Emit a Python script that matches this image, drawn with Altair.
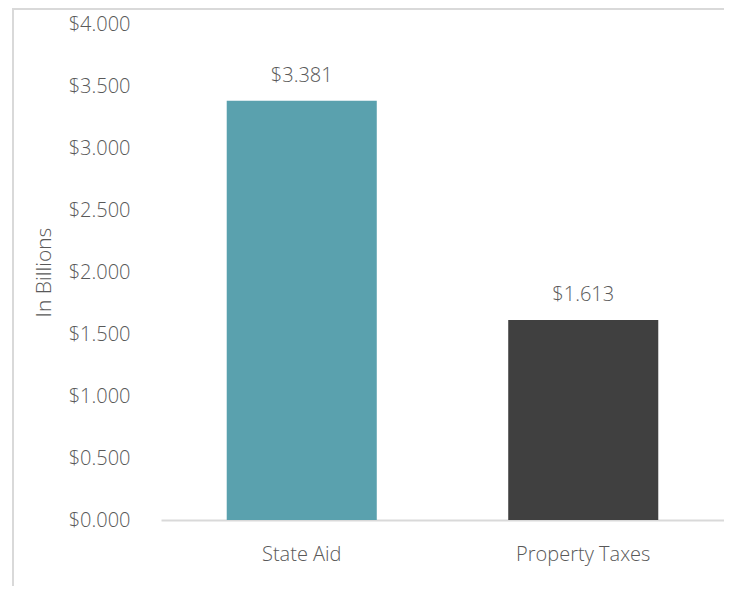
import altair as alt
import pandas as pd

categories = ["State Aid", "Property Taxes"]
values = [3.381, 1.613]
colors = ["#5AA1AE", "#404040"]

df = pd.DataFrame({"cat": categories, "val": values, "color": colors})

FONT = "Open Sans"
GRAY = "#595959"
W = 300

x = alt.X("cat:N", sort=categories, title=None,
          scale=alt.Scale(paddingInner=0.467, paddingOuter=0.2335),
          axis=alt.Axis(labelAngle=0, ticks=False, labelPadding=24, labelFontSize=20,
                        labelColor=GRAY, labelFont=FONT, labelFontWeight=W,
                        domainColor="#d9d9d9", domainWidth=2))
y = alt.Y("val:Q", title="In Billions",
          scale=alt.Scale(domain=[0, 4]),
          axis=alt.Axis(values=[0, 0.5, 1, 1.5, 2, 2.5, 3, 3.5, 4], format="$.3f",
                        grid=False, domain=False, ticks=False, labelPadding=31,
                        labelFontSize=20, labelColor=GRAY, labelFont=FONT,
                        labelFontWeight=W,
                        titleFontSize=21, titleColor=GRAY, titleFont=FONT,
                        titleFontWeight=W, titlePadding=14))

bars = alt.Chart(df).mark_bar().encode(
    x=x, y=y, color=alt.Color("color:N", scale=None)
)
labels = alt.Chart(df).mark_text(
    dy=-19, baseline="alphabetic", fontSize=20, font=FONT, color=GRAY, fontWeight=W
).encode(x=alt.X("cat:N", sort=categories), y="val:Q",
         text=alt.Text("val:Q", format="$.3f"))

border_left = alt.Chart(df).mark_rule(color="#d9d9d9", strokeWidth=2).encode(
    x=alt.value(-148), y=alt.value(-15), y2=alt.value(600))
border_top = alt.Chart(df).mark_rule(color="#d9d9d9", strokeWidth=2).encode(
    x=alt.value(-149), x2=alt.value(600), y=alt.value(-15))

chart = alt.layer(bars, labels, border_left, border_top).properties(
    width=563, height=496,
    autosize=alt.AutoSizeParams(type="none"),
    padding={"left": 153, "top": 16, "right": 0, "bottom": 66},
).configure_view(stroke=None)

chart.save("out.html", embed_options={"renderer": "svg", "actions": False})
